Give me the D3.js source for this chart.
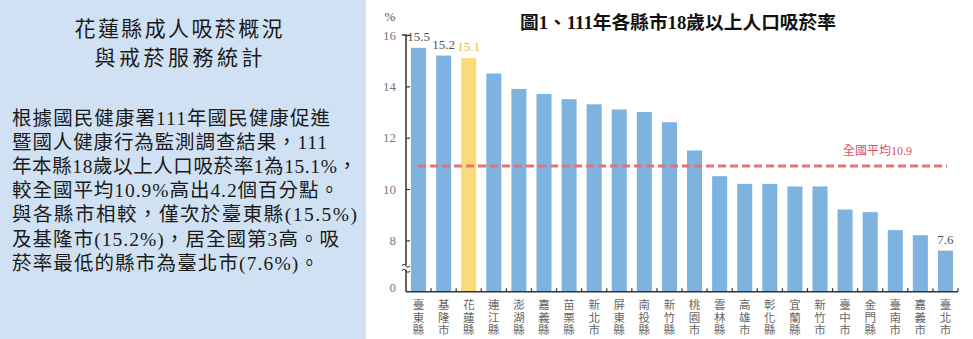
<!DOCTYPE html>
<html>
<head>
<meta charset="utf-8">
<script src="https://cdn.jsdelivr.net/npm/d3@7"></script>
<style>
  html, body { margin: 0; padding: 0; background: #fff; }
  svg { display: block; }
</style>
</head>
<body>
<svg id="chart" width="973" height="339"></svg>
<script>
// County / city names (drawn vertically, one character per line)
const counties = ["臺東縣","基隆市","花蓮縣","連江縣","澎湖縣","嘉義縣","苗栗縣","新北市","屏東縣","南投縣","新竹縣",
                  "桃園市","雲林縣","高雄市","彰化縣","宜蘭縣","新竹市","臺中市","金門縣","臺南市","嘉義市","臺北市"];
// Smoking rate of adults aged 18+ (%), year 111
const rates = [15.5,15.2,15.1,14.5,13.9,13.7,13.5,13.3,13.1,13.0,12.6,
               11.5,10.5,10.2,10.2,10.1,10.1,9.2,9.1,8.4,8.2,7.6];
// Counties whose value is printed above the bar
const labelled = ["臺東縣","基隆市","花蓮縣","臺北市"];
const highlight = "花蓮縣";
const nationalAvg = 10.9;
const yTicks = [6, 8, 10, 12, 14, 16];
const yTickLabels = ["0", "8", "10", "12", "14", "16"];

const panelTitle = ["花蓮縣成人吸菸概況", "與戒菸服務統計"];
const panelText = [
  "根據國民健康署111年國民健康促進",
  "暨國人健康行為監測調查結果，111",
  "年本縣18歲以上人口吸菸率1為15.1%，",
  "較全國平均10.9%高出4.2個百分點。",
  "與各縣市相較，僅次於臺東縣(15.5%)",
  "及基隆市(15.2%)，居全國第3高。吸",
  "菸率最低的縣市為臺北市(7.6%)。"
];
const panelTextWidths = [318, 315, 345, 327, 345, 327, 307];
const chartTitle = "圖1、111年各縣市18歲以上人口吸菸率";

const svg = d3.select("#chart");
const serif = "'Liberation Serif', 'Noto Sans CJK TC', serif";

// ---------- left text panel ----------
svg.append("rect").attr("x", 0).attr("y", 0).attr("width", 366).attr("height", 339).attr("fill", "#cfe1f2");

svg.append("g").selectAll("text").data(panelTitle).join("text")
  .attr("x", 178.5).attr("y", (d, i) => 36 + i * 29)
  .attr("text-anchor", "middle")
  .attr("textLength", (d, i) => [208, 168][i]).attr("lengthAdjust", "spacing")
  .attr("font-family", serif).attr("font-size", 21).attr("fill", "#1a1a1a")
  .text(d => d);

svg.append("g").selectAll("text").data(panelText).join("text")
  .attr("x", 12).attr("y", (d, i) => 124.5 + i * 24.2)
  .attr("textLength", (d, i) => panelTextWidths[i]).attr("lengthAdjust", "spacing")
  .attr("font-family", serif).attr("font-size", 19.5).attr("fill", "#1a1a1a")
  .text(d => d);

// ---------- bar chart ----------
const x = d3.scaleBand().domain(counties).range([406, 958]).paddingInner(0.4).paddingOuter(0.2);
const y = d3.scaleLinear().domain([6, 16]).range([291.7, 35]);
const step = x.step();

svg.append("text")
  .attr("x", 678).attr("y", 29).attr("text-anchor", "middle")
  .attr("textLength", 316).attr("lengthAdjust", "spacingAndGlyphs")
  .attr("font-family", serif).attr("font-size", 18).attr("font-weight", "bold").attr("fill", "#111")
  .text(chartTitle);

svg.append("text").attr("x", 390).attr("y", 21).attr("text-anchor", "middle")
  .attr("font-family", serif).attr("font-size", 13).attr("fill", "#555").text("%");

// bars
svg.append("g").selectAll("rect").data(counties).join("rect")
  .attr("x", d => x(d)).attr("width", x.bandwidth())
  .attr("y", (d, i) => y(rates[i])).attr("height", (d, i) => y(6) - y(rates[i]))
  .attr("fill", d => d === highlight ? "#fcd97b" : "#7eb3df");

// value labels
svg.append("g").selectAll("text").data(counties.filter(d => labelled.includes(d))).join("text")
  .attr("x", d => x(d) + x.bandwidth() / 2)
  .attr("y", d => y(rates[counties.indexOf(d)]) - 7)
  .attr("text-anchor", "middle")
  .attr("font-family", serif).attr("font-size", 13)
  .attr("fill", d => d === highlight ? "#e5b83f" : "#555")
  .text(d => d3.format(".1f")(rates[counties.indexOf(d)]));

// national average line
svg.append("line")
  .attr("x1", x(counties[0]) + x.bandwidth() / 2 - 0.5)
  .attr("x2", x(counties[counties.length - 1]) + x.bandwidth() / 2 + 1.5)
  .attr("y1", y(nationalAvg)).attr("y2", y(nationalAvg))
  .attr("stroke", "#e8707a").attr("stroke-width", 3).attr("stroke-dasharray", "8,4");

svg.append("text")
  .attr("x", 877.5).attr("y", y(nationalAvg) - 11)
  .attr("text-anchor", "middle")
  .attr("font-family", serif).attr("font-size", 12).attr("fill", "#dd4f5c")
  .text("全國平均" + nationalAvg);

// y axis (ticks pointing into the plot)
const yAxis = svg.append("g").attr("transform", "translate(406,0)")
  .call(d3.axisLeft(y).tickValues(yTicks).tickSize(-4).tickPadding(10)
        .tickFormat((d, i) => yTickLabels[i]));
yAxis.select(".domain").attr("stroke", "#333").attr("stroke-width", 1.5).attr("d", `M-4,${y(16)}H0V${y(6)}`);
yAxis.selectAll(".tick line").attr("stroke", "#333").attr("stroke-width", 1.2);
yAxis.selectAll(".tick text").attr("font-family", serif).attr("font-size", 13).attr("fill", "#777")
  .attr("dy", d => d === 6 ? "-0.05em" : "0.32em");
yAxis.selectAll(".tick").filter(d => d === 6).select("line").remove();
yAxis.selectAll(".tick").filter(d => d === 16).select("line").attr("x2", 5);

// axis break mark
const brk = svg.append("g").attr("transform", `translate(406,${y(6.95)})`);
brk.append("rect").attr("x", -2).attr("y", -2.5).attr("width", 4).attr("height", 5).attr("fill", "#fff");
[-2.5, 2.5].forEach(off => {
  brk.append("path")
    .attr("d", `M-4,${off + 1} q2,-3 4,0 t4,0`)
    .attr("fill", "none").attr("stroke", "#333").attr("stroke-width", 1.1);
});

// x axis with ticks between bars
const xAxis = svg.append("g");
xAxis.append("line").attr("x1", 406).attr("x2", 958).attr("y1", y(6)).attr("y2", y(6))
  .attr("stroke", "#333").attr("stroke-width", 1.5);
xAxis.selectAll("line.tk").data(counties).join("line").attr("class", "tk")
  .attr("x1", d => x(d) + x.bandwidth() + step * x.paddingInner() / 2)
  .attr("x2", d => x(d) + x.bandwidth() + step * x.paddingInner() / 2)
  .attr("y1", y(6)).attr("y2", y(6) - 3.5)
  .attr("stroke", "#333").attr("stroke-width", 1.2);

// vertical category labels
const lab = svg.append("g").selectAll("g").data(counties).join("g")
  .attr("transform", d => `translate(${x(d) + x.bandwidth() / 2},0)`);
lab.selectAll("text").data(d => Array.from(d)).join("text")
  .attr("x", 0).attr("y", (c, i) => 309 + i * 12.6)
  .attr("text-anchor", "middle")
  .attr("font-family", serif).attr("font-size", 11.5).attr("fill", "#666")
  .text(c => c);
</script>
</body>
</html>
